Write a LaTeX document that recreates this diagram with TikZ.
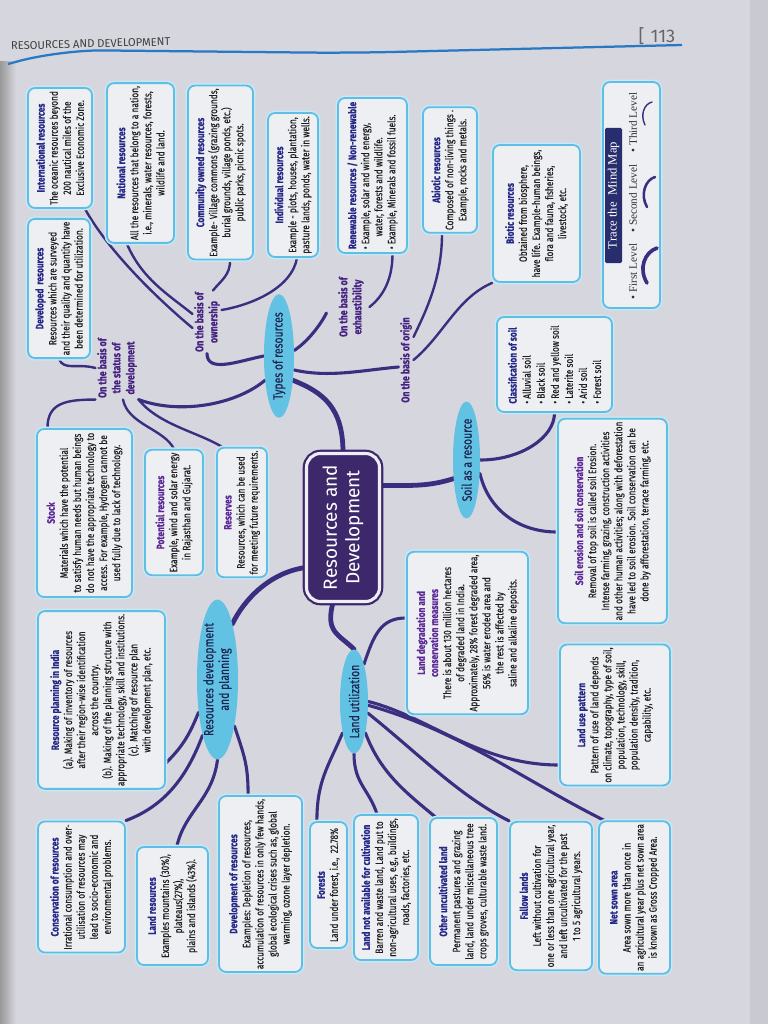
\documentclass[tikz,border=0pt]{standalone}
\usepackage{fontspec}
\setsansfont{Fira Sans}
\newfontfamily\condfont[FakeStretch=0.78, FakeBold=0.25]{Fira Sans}
\newfontfamily\tracefont{Liberation Serif}
\usepackage{xcolor}
\usetikzlibrary{shapes.geometric, backgrounds}

\definecolor{paper}{RGB}{214,214,222}
\definecolor{boxfill}{RGB}{238,239,243}
\definecolor{boxedge}{RGB}{95,190,228}
\definecolor{bubble}{RGB}{98,194,228}
\definecolor{bubbleink}{RGB}{28,35,80}
\definecolor{branch}{RGB}{58,46,128}
\definecolor{hdblue}{RGB}{38,40,135}
\definecolor{hdpurple}{RGB}{92,40,150}
\definecolor{labelpurple}{RGB}{70,34,130}
\definecolor{coreink}{RGB}{62,40,108}
\definecolor{traceink}{RGB}{40,45,110}
\definecolor{headblue}{RGB}{40,120,195}

\newcommand{\hdb}[1]{\textcolor{hdblue}{\bfseries #1}}
\newcommand{\hdp}[1]{\textcolor{hdpurple}{\bfseries #1}}

\begin{document}
\begin{tikzpicture}[x=0.025cm, y=-0.025cm,
  box/.style    ={rectangle, rotate=90, rounded corners=5pt, draw=boxedge,
                  line width=1.3pt, fill=boxfill,
                  preaction={draw=boxedge!35, line width=3.4pt},
                  align=center, inner sep=2pt, text=black!88,
                  font=\condfont\fontsize{7.6}{9.3}\selectfont},
  sz/.style 2 args={minimum width=#1*0.25mm, minimum height=#2*0.25mm},
  corebox/.style={rectangle, rotate=90, rounded corners=10pt, fill=coreink,
                  draw=coreink, line width=1.6pt, double=boxfill,
                  double distance=2.2pt, text=white, align=center,
                  font=\sffamily\fontsize{13.5}{16}\selectfont},
  bubble/.style ={ellipse, rotate=90, fill=bubble, inner sep=0pt,
                  align=center, text=bubbleink,
                  font=\condfont\fontsize{9.5}{11}\selectfont},
  basis/.style  ={rotate=90, align=center, inner sep=1pt, text=labelpurple,
                  font=\condfont\bfseries\fontsize{8}{10}\selectfont},
  legend/.style ={rotate=90, inner sep=0pt, text=black!80,
                  font=\tracefont\fontsize{8}{9}\selectfont},
  lvla/.style   ={draw=branch, line width=3.4pt, line cap=round},
  lvlb/.style   ={draw=branch, line width=2.2pt, line cap=round},
  lvlc/.style   ={draw=branch, line width=1.7pt, line cap=round}
]
\useasboundingbox (0,0) rectangle (768,1024);
% ---- Page header -----------------------------------------------------------
\node[anchor=west, rotate=1.5, text=black!75,
      font=\sffamily\fontsize{8}{9}\selectfont] (chapter) at (6,46) {RESOURCES AND DEVELOPMENT};
\node[text=black!60, font=\sffamily\fontsize{13}{15}\selectfont] (pageno) at (657,36) {[\,\,113};
\draw[headblue, line width=1.6pt, rounded corners=30pt] (8,64) -- (60,50) -- (350,53) -- (682,45);
% ---- Centre and first level ------------------------------------------------
\node[corebox, sz={148}{73}] (centre) at (343,527.5) {Resources and\\Development};
\node[bubble, sz={92}{30}]   (types)    at (279,356)   {Types of resources};
\node[bubble, sz={96}{27}]   (soil)     at (466.5,460) {Soil as a resource};
\node[bubble, sz={93}{28}]   (landutil) at (354,701.5) {Land utilization};
\node[bubble, sz={135}{41}]  (resdev)   at (217.5,679.5) {Resources development\\and planning};
% ---- Basis labels ----------------------------------------------------------
\node[basis] (status)  at (117,368) {On the basis of\\the status of\\development};
\node[basis] (owner)   at (207,322) {On the basis of\\ownership};
\node[basis] (exhaust) at (351,307) {On the basis of\\exhaustibility};
\node[basis] (origin)  at (406,360) {On the basis of origin};
% ---- Types of resources ----------------------------------------------------
\node[box, sz={120}{64}] (intl) at (60,148) {\hdb{International resources}\\The oceanic resources beyond\\200 nautical miles of the\\Exclusive Economic Zone.};
\node[box, sz={150}{67}] (natl) at (140.5,163) {\hdb{National resources}\\All the resources that belong to a nation,\\i.e., minerals, water resources, forests,\\wildlife and land.};
\node[box, sz={169}{65}] (comm) at (220.5,172.5) {\hdb{Community owned resources}\\Example- Village commons (grazing grounds,\\burial grounds, village ponds, etc.)\\public parks, picnic spots.};
\node[box, sz={144}{50}] (indiv) at (293,185) {\hdb{Individual resources}\\Example - plots, houses, plantation,\\pasture lands, ponds, water in wells.};
\node[box, sz={155}{69}, align=left] (renew) at (372.5,175.5) {\hdb{Renewable resources / Non-renewable}\\• Example, solar and wind energy,\\\hspace{1.2em}water, forests and wildlife.\\• Example, Minerals and fossil fuels.};
\node[box, sz={124}{54}] (abiotic) at (450,170) {\hdb{Abiotic resources}\\Composed of non-living things .\\Example, rocks and metals.};
\node[box, sz={137}{87}] (biotic) at (536.5,213.5) {\hdb{Biotic resources}\\Obtained from biosphere,\\have life. Example-human beings,\\flora and fauna, fisheries,\\livestock, etc.};
\node[box, sz={137}{62}] (devd) at (59,288.5) {\hdb{Developed\ \ resources}\\Resources which are surveyed\\and their quality and quantity have\\been determined for utilization.};
\node[box, sz={168}{95}] (stock) at (84.5,513) {\hdp{Stock}\\Materials which have the potential\\to satisfy human needs but human beings\\do not have the appropriate technology to\\access. For example, Hydrogen cannot be\\used fully due to lack of technology.};
\node[box, sz={125}{58}] (potent) at (174,512.5) {\hdp{Potential resources}\\Example, wind and solar energy\\in Rajasthan and Gujarat.};
\node[box, sz={127}{50}] (reserve) at (242,512.5) {\hdp{Reserves}\\Resources, which can be used\\for meeting future requirements.};
% ---- Trace the mind map ----------------------------------------------------
\node[box, sz={226}{57}] (trace) at (631.5,195) {};
\node[rotate=90, fill=traceink, text=white, inner sep=1pt, rounded corners=1pt,
      minimum width=135*0.25mm, minimum height=17*0.25mm,
      font=\tracefont\fontsize{9}{10}\selectfont] (tracetag) at (613.5,195.5) {Trace the\ \ Mind Map};
\node[legend] (first)  at (633,271.5) {• First Level};
\node[legend] (second) at (633,198.5) {• Second Level};
\node[legend] (third)  at (633,122.5) {• Third Level};
\draw[branch, line width=2.6pt, line cap=round] (647,283) .. controls (638,268) and (645,252) .. (657,248);
\draw[branch, line width=1.8pt, line cap=round] (647,207) .. controls (640,195) and (645,180) .. (655,177);
\draw[branch, line width=1pt, line cap=round]   (645,125) .. controls (640,115) and (644,104) .. (652,102);
% ---- Soil as a resource ----------------------------------------------------
\node[box, sz={95}{115}, align=left, font=\condfont\fontsize{7.6}{10}\selectfont] (classif) at (554.5,364.5) {\hdb{Classification of soil}\\• Alluvial soil\\• Black soil\\• Red and yellow soil\\• Laterite soil\\• Arid soil\\• Forest soil};
\node[box, sz={198}{109}] (erosion) at (612.5,521) {\hdp{Soil erosion and soil conservation}\\Removal of top soil is called soil Erosion.\\Intense farming, grazing, construction activities\\and other human activities; along with deforestation\\have led to soil erosion. Soil conservation can be\\done by afforestation, terrace farming, etc.};
% ---- Land utilization ------------------------------------------------------
\node[box, sz={160}{121}] (degrad) at (467.5,633) {\hdp{Land degradation and}\\\hdp{conservation measures}\\There is about 130 million hectares\\of degraded land in India.\\Approximately, 28\% forest degraded area,\\56\% is water eroded area and\\the rest is affected by\\saline and alkaline deposits.};
\node[box, sz={140}{110}] (usepat) at (615,715) {\hdb{Land use pattern}\\Pattern of use of land depends\\on climate, topography, type of soil,\\population, technology, skill,\\population density, tradition,\\capability, etc.};
\node[box, sz={126}{37}] (forest) at (328.5,885) {\hdb{Forests}\\Land under forest, i.e.,\ \ 22.78\%};
\node[box, sz={145}{64}] (notavail) at (386,887.5) {\hdb{Land not available for cultivation}\\Barren and waste land, Land put to\\non-agricultural uses, e.g., buildings,\\roads, factories, etc.};
\node[box, sz={147}{67}] (uncult) at (463.5,891.5) {\hdb{Other uncultivated land}\\Permanent pastures and grazing\\land, land under miscellaneous tree\\crops groves, culturable waste land.};
\node[box, sz={148}{82}] (fallow) at (551,896) {\hdb{Fallow lands}\\Left without cultivation for\\one or less than one agricultural year,\\and left uncultivated for the past\\1 to 5 agricultural years.};
\node[box, sz={151}{71}] (netsown) at (634.5,897.5) {\hdb{Net sown area}\\Area sown more than once in\\an agricultural year plus net sown area\\is known as Gross Cropped Area.};
% ---- Resources development and planning ------------------------------------
\node[box, sz={174}{127}] (plan) at (101.5,700) {\hdb{Resource planning in India}\\(a). Making of inventory of resources\\after their region-wise identification\\across the country.\\(b). Making of the planning structure with\\appropriate technology, skill and institutions.\\(c). Matching of resource plan\\with development plan, etc.};
\node[box, sz={130}{87}] (conserv) at (81.5,887) {\hdb{Conservation of resources}\\Irrational consumption and over-\\utilisation of resources may\\lead to socio-economic and\\environmental problems.};
\node[box, sz={118}{71}] (landres) at (172.5,906) {\hdb{Land resources}\\Examples mountains (30\%),\\plateaus(27\%),\\plains and islands (43\%).};
\node[box, sz={168}{83}] (devres) at (260.5,884) {\hdb{Development of resources}\\Examples: Depletion of resources,\\accumulation of resources in only few hands,\\global ecological crises such as, global\\warming, ozone layer depletion.};
% ---- Paper and branches ----------------------------------------------------
\begin{scope}[on background layer]
  \fill[paper] (0,0) rectangle (768,1024);
  \shade[left color=black!40, right color=paper] (0,62) rectangle (16,1024);
  \fill[black!6!paper] (750,0) rectangle (768,1024);
  % first level
  \draw[lvla] (centre.east) .. controls +(0,-45) and +(30,12) .. (types.-150);
  \draw[lvla] ([yshift=10.5mm]centre.south) .. controls +(30,0) and +(-25,8) .. (soil.145);
  \draw[lvla] ([xshift=-2.5mm]centre.west) .. controls +(-8,30) and +(-15,-15) .. (landutil.east);
  \draw[lvla] ([yshift=-10mm]centre.north) .. controls +(-35,5) and +(12,-25) .. (resdev.-15);
  % types of resources
  \draw[lvlb] (types.150) .. controls +(-30,25) and +(40,15) .. (status.south west);
  \draw[lvlb] (types.north) .. controls +(-25,5) and +(0,20) .. (owner.west);
  \draw[lvlb] (types.-70) .. controls +(15,-10) and +(-5,10) .. ([xshift=-2.5mm,yshift=-1.5mm]exhaust.north);
  \draw[lvlb] ([yshift=-3.5mm]types.south) .. controls +(35,8) and +(-35,3) .. ([yshift=-1.75mm]origin.north);
  \draw[lvlc] (devd.west) .. controls +(5,12) and +(-18,-5) .. (status.north);
  \draw[lvlc] (status.north west) .. controls +(-30,0) and +(0,-25) .. ([xshift=-9.25mm]stock.east);
  \draw[lvlc] ([xshift=1.5mm]status.west) .. controls +(5,25) and +(-10,-20) .. (potent.east);
  \draw[lvlc] (status.south west) .. controls +(20,25) and +(-25,-15) .. ([xshift=-5mm]reserve.east);
  \draw[lvlc] ([xshift=6.25mm]intl.west) .. controls +(25,45) and +(-30,-25) .. ([yshift=-1.5mm]owner.north);
  \draw[lvlc] ([xshift=-3.4mm]natl.west) .. controls +(15,35) and +(-25,-20) .. ([yshift=2mm]owner.north);
  \draw[lvlc] ([xshift=2.4mm]comm.west) .. controls +(0,15) and +(8,-10) .. ([xshift=1.5mm]owner.east);
  \draw[lvlc] ([xshift=1mm]indiv.west) .. controls +(-5,30) and +(30,-5) .. ([yshift=3mm]owner.south);
  \draw[lvlc] ([xshift=5mm]renew.west) .. controls +(0,30) and +(10,-8) .. ([xshift=1mm]exhaust.south);
  \draw[lvlc] ([xshift=-2mm]abiotic.west) .. controls +(0,45) and +(12,-25) .. ([yshift=5.75mm]origin.south);
  \draw[lvlc] (biotic.north west) .. controls +(-35,15) and +(30,-25) .. (origin.south);
  % soil
  \draw[lvlb] (soil.south) .. controls +(40,0) and +(0,25) .. (classif.west);
  \draw[lvlb] (soil.-135) .. controls +(8,35) and +(-40,0) .. ([yshift=-2.75mm]erosion.north);
  % land utilization
  \draw[lvlb] (landutil.-15) .. controls +(10,-30) and +(-25,0) .. ([yshift=3.75mm]degrad.north);
  \draw[lvlb] (landutil.south) .. controls +(60,15) and +(-80,0) .. ([yshift=-12.5mm]usepat.north);
  \draw[lvlb] (landutil.160) .. controls +(-15,35) and +(0,-40) .. ([xshift=-2.9mm]forest.east);
  \draw[lvlb] (landutil.west) .. controls +(0,30) and +(-8,-25) .. ([xshift=-2.25mm]notavail.east);
  \draw[lvlb] (landutil.-160) .. controls +(15,40) and +(-30,-25) .. ([xshift=-7mm]uncult.east);
  \draw[lvlb] (landutil.-130) .. controls +(50,40) and +(-50,-25) .. (fallow.north east);
  \draw[lvlb] (landutil.-105) .. controls +(90,25) and +(-80,-40) .. ([xshift=1.5mm]netsown.north east);
  % development and planning
  \draw[lvlb] (resdev.150) .. controls +(-10,25) and +(15,-15) .. ([yshift=-15.75mm]plan.south);
  \draw[lvlb] (resdev.165) .. controls +(-15,40) and +(40,-15) .. (conserv.south east);
  \draw[lvlb] (resdev.west) .. controls +(-5,40) and +(8,-35) .. ([xshift=1.1mm]landres.east);
  \draw[lvlb] (resdev.-160) .. controls +(10,30) and +(0,-30) .. ([xshift=-3.1mm]devres.east);
\end{scope}
\end{tikzpicture}
\end{document}
